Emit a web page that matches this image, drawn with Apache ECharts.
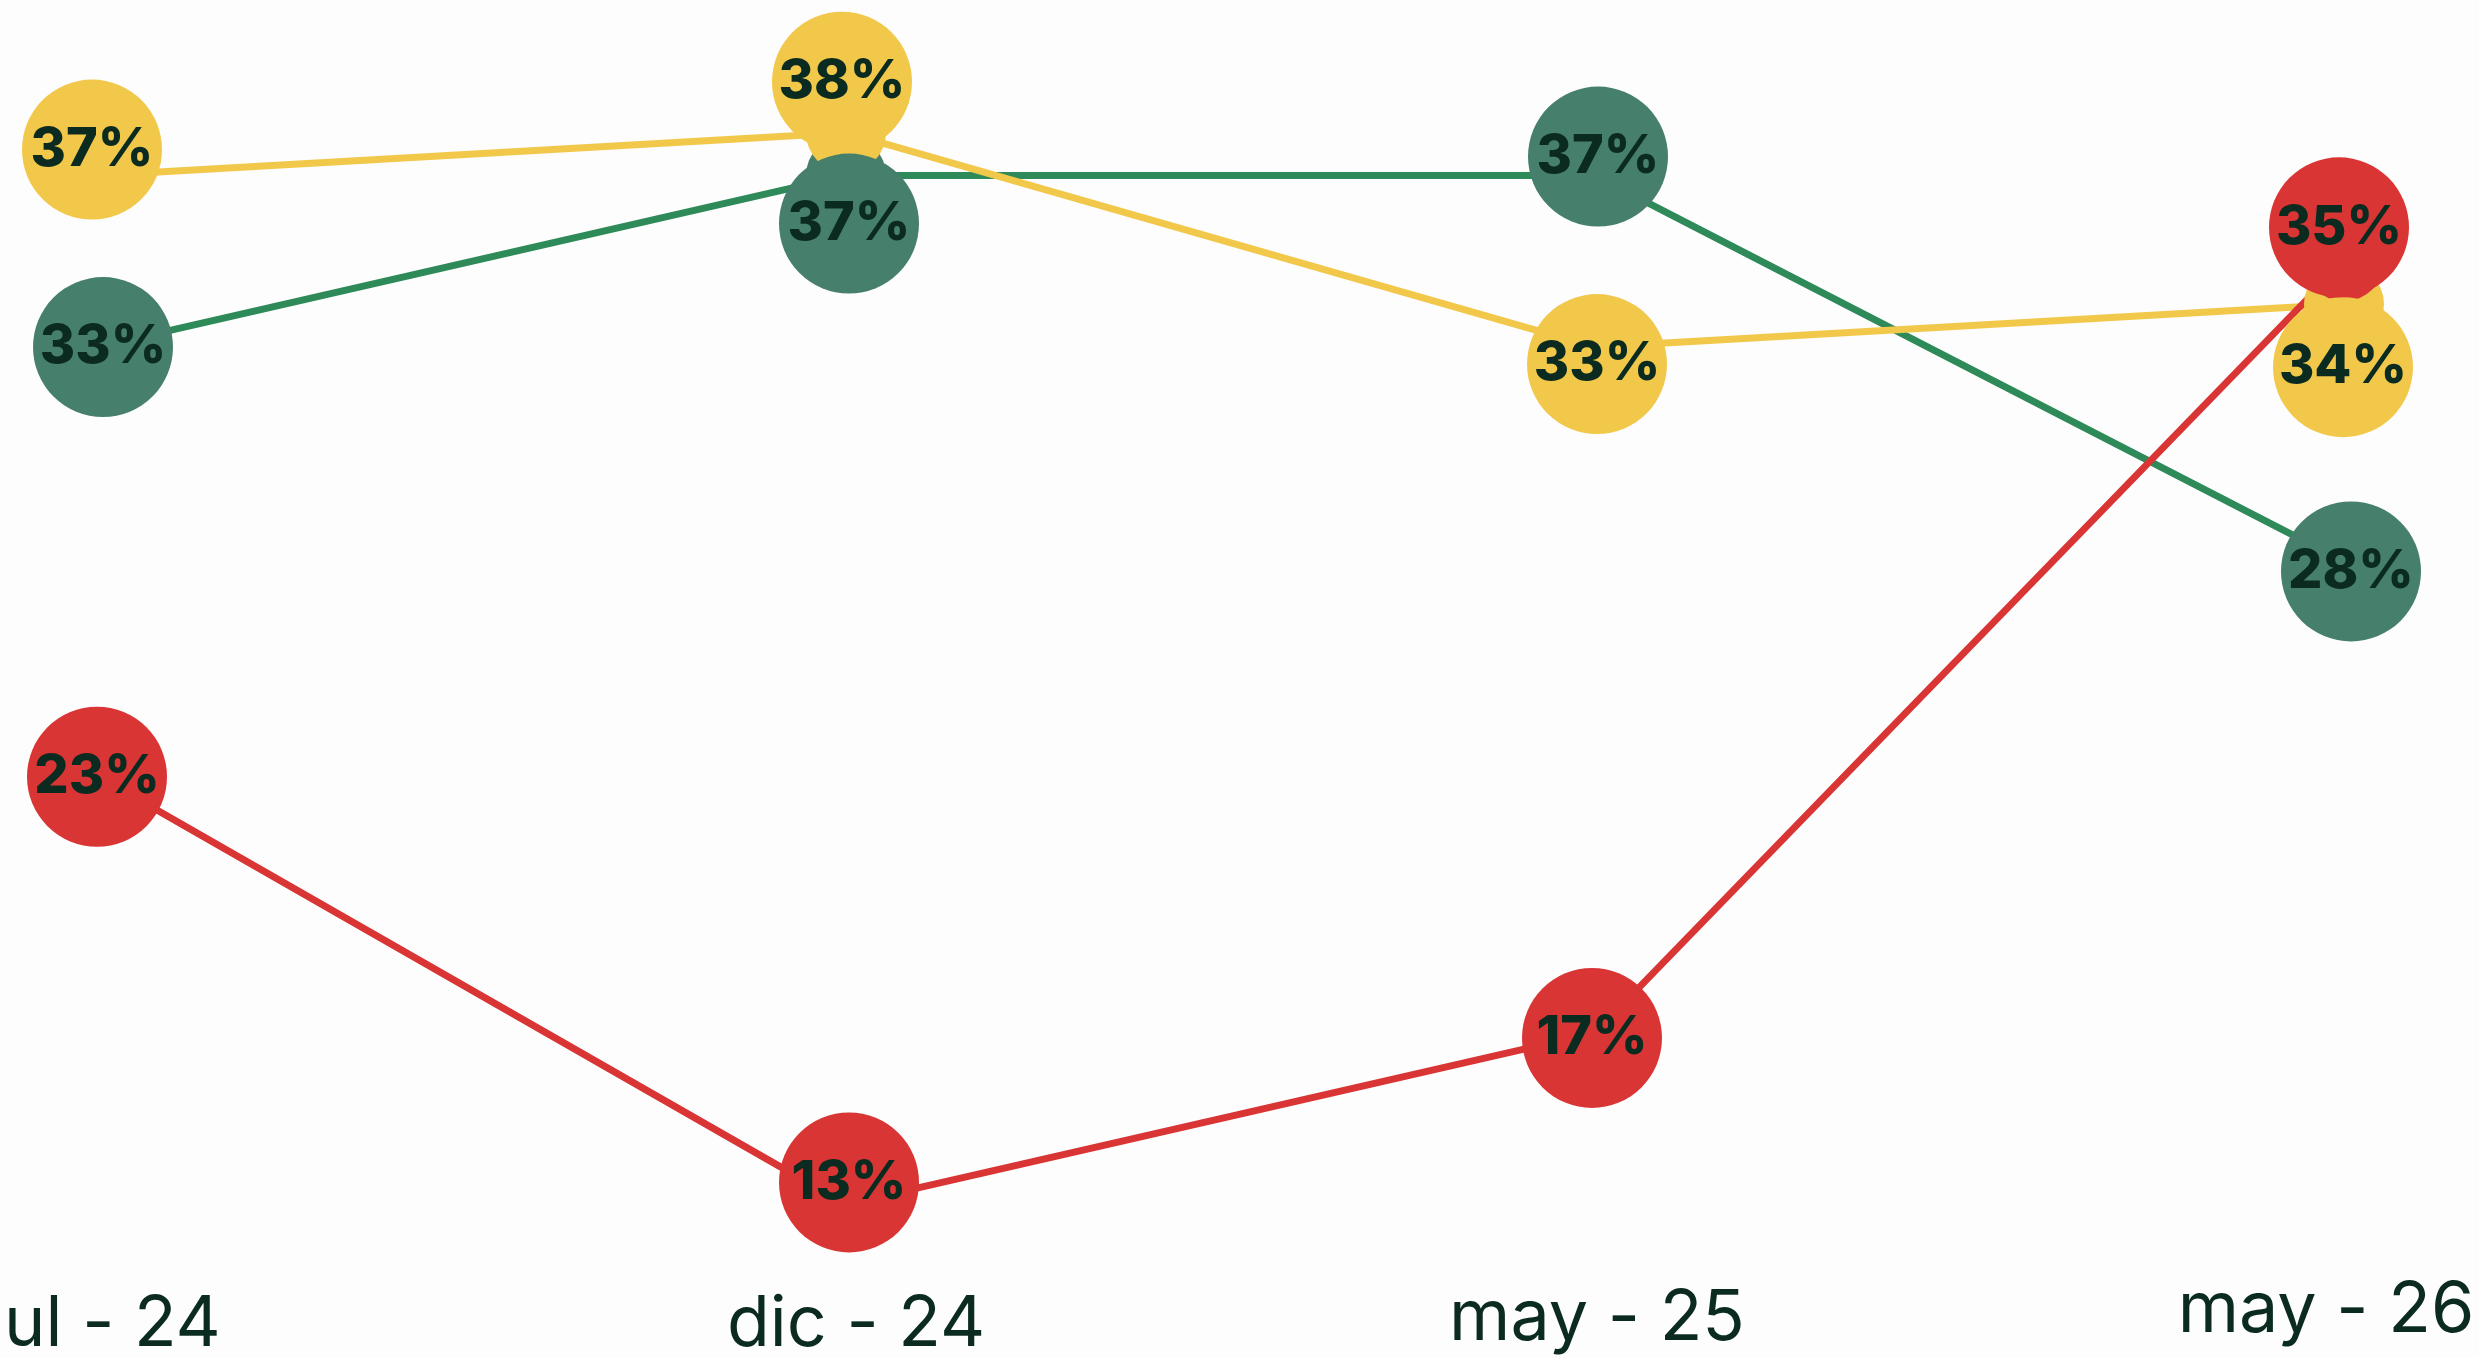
<!DOCTYPE html>
<html>
<head>
<meta charset="utf-8">
<script src="https://cdn.jsdelivr.net/npm/echarts@6/dist/echarts.min.js"></script>
<style>
  html, body { margin: 0; padding: 0; background: #fdfdfd; }
  #chart { width: 2479px; height: 1358px; }
</style>
</head>
<body>
<div id="chart"></div>
<script>
// ---- data ----
const categories = ['jul - 24', 'dic - 24', 'may - 25', 'may - 26'];
const greenValues  = [33, 37, 37, 28];
const yellowValues = [37, 38, 33, 34];
const redValues    = [23, 13, 17, 35];

// ---- layout: pixel nudges of the value bubbles away from the line vertices ----
const greenNudge  = [[6, 0], [3, 48], [3, -19], [7, 10]];
const yellowNudge = [[-5, -26], [-4, -51], [2, 17], [-1, 63]];
const redNudge    = [[0, 1], [3, -22], [-3, 5], [-5, -34]];
// per-label tweaks for the tick labels (horizontal padding, vertical anchoring)
const labelTweaks = [
  { padding: [0, 0, 0, 14], verticalAlign: 'middle' },
  { padding: [0, 0, 0, 20], verticalAlign: 'middle' },
  { padding: [0, 0, 0, 4],  verticalAlign: 'bottom', lineHeight: 12 },
  { padding: [0, 36, 0, 0], verticalAlign: 'bottom', lineHeight: 28 }
];

const TEXT = '#0b2b20';
const FONT = 'Inter, "Open Sans", sans-serif';
const colors = {
  green:  { line: '#2e8a58', bubble: '#467f6c' },
  yellow: { line: '#f2c84b', bubble: '#f2c84b' },
  red:    { line: '#da3535', bubble: '#da3535' }
};

function lineSeries(name, values, c) {
  return {
    name: name, type: 'line', data: values, z: 2,
    symbol: 'circle', symbolSize: 80, showSymbol: true,
    lineStyle: { color: c.line, width: 7 },
    itemStyle: { color: c.bubble },
    label: { show: false },
    emphasis: { disabled: true },
    silent: true, animation: false
  };
}
function bubbleSeries(name, values, nudge, c) {
  return {
    name: name + ' %', type: 'scatter', z: 5,
    data: values.map((v, i) => ({ value: v, symbolOffset: nudge[i] })),
    symbol: 'circle', symbolSize: 140,
    itemStyle: { color: c.bubble, opacity: 1 },
    label: {
      show: true, position: 'inside',
      formatter: p => (Array.isArray(p.value) ? p.value[1] : p.value) + '%',
      fontFamily: FONT, fontWeight: 800,
      fontSize: 54, color: TEXT
    },
    emphasis: { disabled: true },
    silent: true, animation: false
  };
}

const labelStyle = {
  verticalAlign: 'middle', align: 'center',
  fontFamily: FONT, fontSize: 70, fontWeight: 400, color: TEXT
};

const chart = echarts.init(document.getElementById('chart'), null, { renderer: 'canvas' });
chart.setOption({
  backgroundColor: '#fdfdfd',
  animation: false,
  grid: { left: 97, right: 135, top: 47, bottom: 25, containLabel: false, outerBoundsMode: 'none' },
  xAxis: {
    type: 'category', boundaryGap: false,
    data: categories.map((c, i) => ({
      value: c,
      textStyle: Object.assign({}, labelStyle, labelTweaks[i])
    })),
    axisLine: { show: false }, axisTick: { show: false }, splitLine: { show: false },
    axisLabel: Object.assign({ interval: 0, margin: -8, hideOverlap: false }, labelStyle)
  },
  yAxis: { type: 'value', min: 10, max: 40, show: false, splitLine: { show: false } },
  series: [
    lineSeries('Verde', greenValues, colors.green),
    lineSeries('Amarillo', yellowValues, colors.yellow),
    lineSeries('Rojo', redValues, colors.red),
    bubbleSeries('Verde', greenValues, greenNudge, colors.green),
    bubbleSeries('Amarillo', yellowValues, yellowNudge, colors.yellow),
    bubbleSeries('Rojo', redValues, redNudge, colors.red)
  ]
});
</script>
</body>
</html>
